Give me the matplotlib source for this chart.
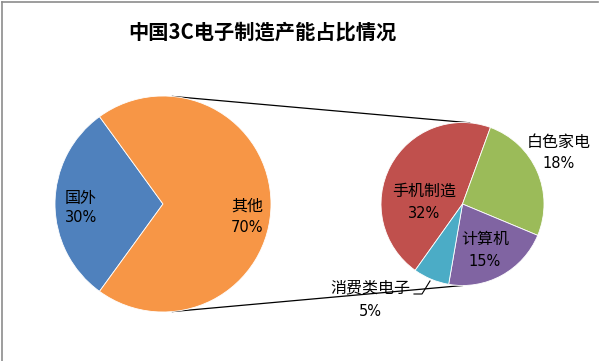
import numpy as np
import matplotlib
matplotlib.use("Agg")
import matplotlib.pyplot as plt

plt.rcParams['font.family'] = ['Noto Sans CJK SC', 'DejaVu Sans']

title = "中国3C电子制造产能占比情况"
main_labels = ["国外", "其他"]
main_values = [30, 70]
main_colors = ["#4F81BD", "#F79646"]

sub_labels = ["手机制造", "白色家电", "计算机", "消费类电子"]
sub_values = [32, 18, 15, 5]
sub_colors = ["#C0504D", "#9BBB59", "#8064A2", "#4BACC6"]

W, H = 599, 361
fig = plt.figure(figsize=(W / 100, H / 100), dpi=100)
ax = fig.add_axes([0, 0, 1, 1])
ax.set_xlim(0, W)
ax.set_ylim(0, H)
ax.set_aspect('equal')
ax.axis('off')

def py(y):
    return H - y

# border (top and left)
ax.plot([1.5, 598], [py(2), py(2)], color="#8c8c8c", lw=1.2, zorder=1)
ax.plot([1.5, 1.5], [py(2), 0], color="#8c8c8c", lw=1.2, zorder=1)

# main pie
c1 = (163, py(204)); r1 = 108
ax.pie(main_values, colors=main_colors, startangle=126, counterclock=True,
       center=c1, radius=r1, frame=True,
       wedgeprops=dict(edgecolor="white", linewidth=0.6))

# secondary pie
c2 = (462.5, py(204)); r2 = 81.5
ax.pie(sub_values, colors=sub_colors, startangle=234.5, counterclock=False,
       center=c2, radius=r2, frame=True,
       wedgeprops=dict(edgecolor="white", linewidth=0.6))

ax.set_xlim(0, W)
ax.set_ylim(0, H)
ax.axis('off')

# connector lines
a_top = np.deg2rad(85)
ax.plot([c1[0] + r1 * np.cos(a_top), c2[0] + r2 * np.cos(a_top)],
        [c1[1] + r1 * np.sin(a_top), c2[1] + r2 * np.sin(a_top)],
        color="black", lw=0.9, zorder=0)
a_bot = np.deg2rad(-85)
a_bot2 = np.deg2rad(-90)
ax.plot([c1[0] + r1 * np.cos(a_bot), c2[0] + r2 * np.cos(a_bot2)],
        [c1[1] + r1 * np.sin(a_bot), c2[1] + r2 * np.sin(a_bot2)],
        color="black", lw=0.9, zorder=0)

# title
ax.text(262, py(32), title, ha="center", va="center", fontsize=14.6,
        fontweight="bold", color="black")

def lab(x, y1, y2, name, val):
    ax.text(x, py(y1), name, ha="center", va="center", fontsize=11.5,
            color="black", zorder=5)
    ax.text(x, py(y2), f"{val}%", ha="center", va="center", fontsize=10.5,
            family=["DejaVu Sans"], color="black", zorder=5)

lab(81, 198, 218, main_labels[0], main_values[0])
lab(247, 206, 228, main_labels[1], main_values[1])
lab(424, 191, 214, sub_labels[0], sub_values[0])
lab(559, 142, 163, sub_labels[1], sub_values[1])
lab(485, 239, 262, sub_labels[2], sub_values[2])
lab(370, 288, 311, sub_labels[3], sub_values[3])

# leader line for small slice
ax.plot([414, 422, 430], [py(294), py(294), py(281)], color="black", lw=0.8, zorder=4)

fig.savefig("out.png", dpi=100)
